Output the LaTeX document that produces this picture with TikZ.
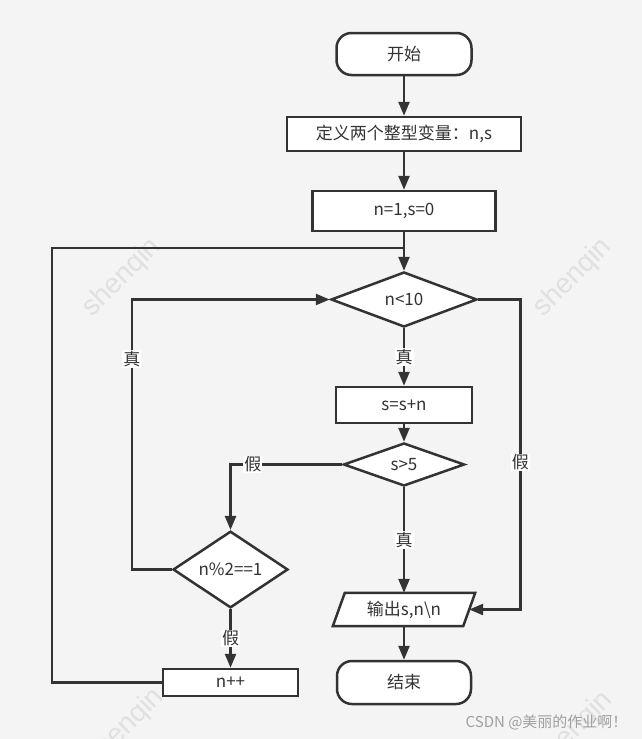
\documentclass[tikz,border=0pt]{standalone}
\usepackage{fontspec}
\setmainfont{Noto Sans CJK SC}
\newfontfamily\wmfont{Liberation Sans}
\usetikzlibrary{arrows.meta,shapes.geometric,calc}
\definecolor{bg}{HTML}{F4F4F4}
\definecolor{ln}{HTML}{333333}
\definecolor{wmc}{HTML}{E0E0E0}
\definecolor{csdn}{HTML}{A0A0A0}
\begin{document}
\begin{tikzpicture}[x=1pt,y=-1pt,
  every node/.style={font=\fontsize{17}{19}\selectfont, text=ln},
  base/.style={draw=ln, line width=2.5pt, fill=white, inner sep=0pt},
  term/.style={base, rounded corners=15pt, minimum width=135pt, minimum height=42pt},
  proc/.style={base, rectangle},
  dec/.style={base, diamond},
  conn/.style={draw=ln, line width=2.5pt, -{Triangle[length=14pt,width=11pt]}},
  plain/.style={draw=ln, line width=2.5pt},
  lab/.style={fill=white, inner sep=1pt, text=ln},
  wm/.style={text=wmc, rotate=45, font=\wmfont\fontsize{28}{30}\selectfont}
]
\useasboundingbox (0,0) rectangle (642,739);
\fill[bg] (0,0) rectangle (642,739);

% watermarks
\node[wm] (w1) at (122,278) {shenqin};
\node[wm] (w2) at (573,278) {shenqin};
\node[wm] (w3) at (125,728) {shenqin};
\node[wm] (w4) at (574,731) {shenqin};

% nodes
\node[term] (start) at (404,54) {开始};
\node[proc, minimum width=234pt, minimum height=34pt] (def) at (404,134) {定义两个整型变量：n,s};
\node[proc, minimum width=183pt, minimum height=40pt] (init) at (404,211) {n=1,s=0};
\node[dec, minimum width=146pt, minimum height=55pt] (d1) at (404,299.5) {n<10};
\node[proc, minimum width=136pt, minimum height=36pt] (add) at (404,405) {s=s+n};
\node[dec, minimum width=121pt, minimum height=43pt] (d2) at (404,464.5) {s>5};
\node[dec, minimum width=115pt, minimum height=65pt] (d3) at (230.5,569.5) {n\%2==1};
\node[proc, minimum width=135pt, minimum height=27pt] (inc) at (230.5,682.5) {n++};
\node[rectangle, inner sep=0pt, minimum width=130pt, minimum height=33pt] (out) at (404,609.5) {};
\filldraw[draw=ln, fill=white, line width=2.5pt, line join=miter]
  ($(out.north west)+(6,0)$) -- ($(out.north east)+(6,0)$) --
  ($(out.south east)+(-6,0)$) -- ($(out.south west)+(-6,0)$) -- cycle;
\node at (out) {输出s,n\textbackslash n};
\node[term, minimum width=134pt, minimum height=43pt] (end) at (404,682.5) {结束};

\coordinate (j) at (404,248);

% connectors
\draw[conn] (start) -- (def);
\draw[conn] (def) -- (init);
\draw[conn] (init) -- (d1);
\draw[conn] (d1) -- node[lab]{真} (add);
\draw[conn] (add) -- (d2);
\draw[conn] (d2) -- node[lab]{真} (out);
\draw[conn] (out) -- (end);
\draw[conn] (d2.west) -| node[lab, pos=0.4]{假} (d3.north);
\draw[conn] (d3.west) -- ++(-40,0) |- node[lab, pos=0.39]{真} (d1.west);
\draw[conn] (d3) -- node[lab]{假} (inc);
\draw[plain] (inc.west) -- ++(-110,0) |- (j);
\draw[conn] (d1.east) -- ++(42,0) |- node[lab, pos=0.263]{假} (out.east);

\node[anchor=east, text=csdn, font=\fontsize{15}{17}\selectfont] (csdn) at (631,722) {CSDN @美丽的作业啊！};
\end{tikzpicture}
\end{document}
